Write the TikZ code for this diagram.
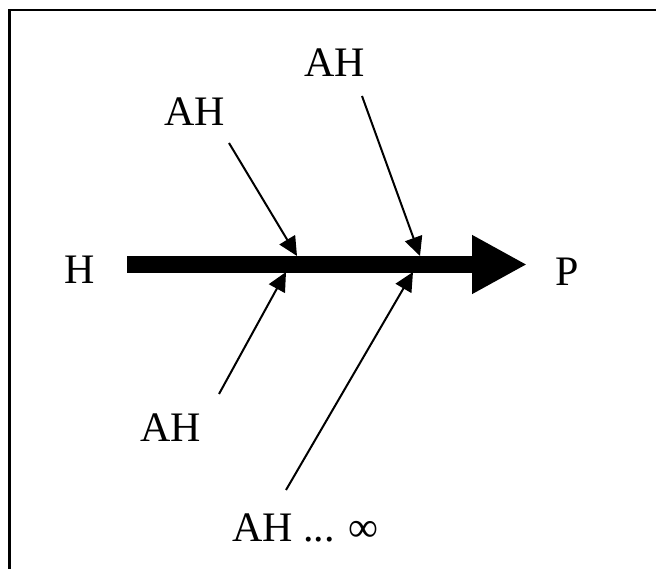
\documentclass[tikz,border=0pt]{standalone}
\usepackage{fontspec}
\setmainfont{Liberation Serif}
\usetikzlibrary{arrows.meta}
\begin{document}
\begin{tikzpicture}[x=1pt,y=-1pt,
  lbl/.style={anchor=base,inner sep=0pt,font=\fontsize{42}{48}\selectfont},
  feeder/.style={line width=2pt,-{Triangle[length=19pt,width=18pt]}},
  mainarrow/.style={line width=16.7pt,-{Triangle[length=55pt,width=55pt]}}]
\useasboundingbox (0,0) rectangle (656,569);
% frame (only top and left visible)
\draw[line width=2.5pt] (9.5,569) -- (9.5,10) -- (656,10);
% labels
\node[lbl] (H) at (79.5,284) {H};
\node[lbl] (P) at (567.5,285.5) {P};
\node[lbl] (ah1) at (194.5,126) {AH};
\node[lbl] (ah2) at (335,76.5) {AH};
\node[lbl] (ah3) at (170.5,441) {AH};
\node[lbl] (ah4) at (305.5,541.5) {AH ... ∞};
% main arrow
\coordinate (mstart) at (127,264.5);
\coordinate (mend) at (527,264.5);
\draw[mainarrow] (mstart) -- (mend);
% feeder arrows
\coordinate (s1) at (229,143);
\coordinate (t1) at (297,256);
\coordinate (s2) at (362,96);
\coordinate (t2) at (420,256);
\coordinate (s3) at (219,394);
\coordinate (t3) at (286,272);
\coordinate (s4) at (286,490);
\coordinate (t4) at (413,272);
\draw[feeder] (s1) -- (t1);
\draw[feeder] (s2) -- (t2);
\draw[feeder] (s3) -- (t3);
\draw[feeder] (s4) -- (t4);
\end{tikzpicture}
\end{document}
